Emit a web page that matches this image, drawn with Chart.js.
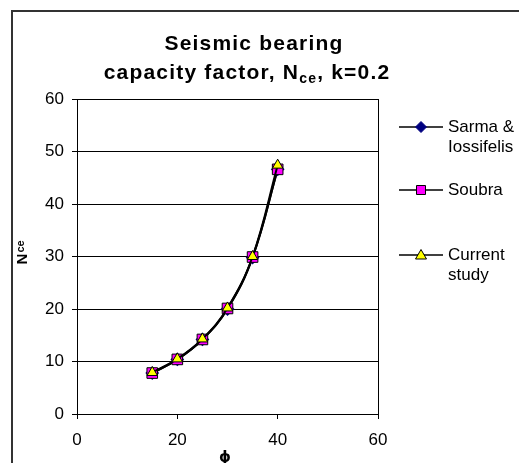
<!DOCTYPE html>
<html>
<head>
<meta charset="utf-8">
<script src="https://cdn.jsdelivr.net/npm/chart.js@4"></script>
<style>
  html, body { margin: 0; padding: 0; background: #fff; }
  #wrap { width: 519px; height: 463px; position: relative; }
</style>
</head>
<body>
<div id="wrap"><canvas id="chart1"></canvas></div>
<script>
const phi = [15, 20, 25, 30, 35, 40];
const sarma = [7.8, 10.4, 14.2, 20.0, 29.8, 46.6];
const soubra = [7.8, 10.4, 14.2, 20.1, 29.9, 46.6];
const current = [7.9, 10.5, 14.3, 20.2, 30.0, 47.4];
const seriesNames = [['Sarma &', 'Iossifelis'], ['Soubra'], ['Current', 'study']];
const xTicks = [0, 20, 40, 60];
const yTicks = [0, 10, 20, 30, 40, 50, 60];

const FONT = '"Liberation Sans", Arial, sans-serif';

function pts(ys) {
  return phi.map((x, i) => ({ x: x, y: ys[i] }));
}

function drawMarker(ctx, style, x, y) {
  ctx.save();
  ctx.lineWidth = 1;
  ctx.beginPath();
  if (style === 'diamond') {
    ctx.moveTo(x, y - 5.5); ctx.lineTo(x + 5.5, y); ctx.lineTo(x, y + 5.5); ctx.lineTo(x - 5.5, y); ctx.closePath();
    ctx.fillStyle = '#000080'; ctx.strokeStyle = '#000080';
  } else if (style === 'square') {
    ctx.rect(x - 4.5, y - 4.5, 9, 9);
    ctx.fillStyle = '#ff00ff'; ctx.strokeStyle = '#000';
  } else {
    ctx.moveTo(x, y - 5.5); ctx.lineTo(x + 5.5, y + 4); ctx.lineTo(x - 5.5, y + 4); ctx.closePath();
    ctx.fillStyle = '#ffff00'; ctx.strokeStyle = '#000';
  }
  ctx.fill(); ctx.stroke();
  ctx.restore();
}

// text with a subscript piece, returns total width (draw=false just measures)
function subText(ctx, parts, x, y, big, small, draw) {
  let w = 0;
  parts.forEach(p => {
    ctx.font = (p.sub ? small : big);
    if (draw) ctx.fillText(p.t, x + w, y + (p.sub ? 4 : 0));
    w += ctx.measureText(p.t).width;
  });
  return w;
}

const decor = {
  id: 'decor',
  afterDraw(chart) {
    const ctx = chart.ctx;
    const a = chart.chartArea;
    ctx.save();

    // outer frame
    ctx.strokeStyle = '#333';
    ctx.lineWidth = 2;
    ctx.beginPath();
    ctx.moveTo(12, 463); ctx.lineTo(12, 11); ctx.lineTo(519, 11);
    ctx.stroke();

    // plot area border
    ctx.strokeStyle = '#000';
    ctx.lineWidth = 1;
    ctx.strokeRect(a.left + 0.5, a.top + 0.5, a.right - a.left, a.bottom - a.top);

    // title
    ctx.fillStyle = '#000';
    ctx.textBaseline = 'alphabetic';
    ctx.textAlign = 'left';
    ctx.letterSpacing = '1.2px';
    const big = 'bold 21px ' + FONT, small = 'bold 14px ' + FONT;
    const l1 = [{ t: 'Seismic bearing' }];
    const l2 = [{ t: 'capacity factor, N' }, { t: 'ce', sub: true }, { t: ', k=0.2' }];
    let w = subText(ctx, l1, 0, 0, big, small, false);
    subText(ctx, l1, 254 - w / 2, 50, big, small, true);
    w = subText(ctx, l2, 0, 0, big, small, false);
    subText(ctx, l2, 247 - w / 2, 79, big, small, true);
    ctx.letterSpacing = '0px';

    // y axis title (rotated)
    ctx.save();
    ctx.translate(27, 255);
    ctx.rotate(-Math.PI / 2);
    ctx.font = 'bold 15px ' + FONT;
    const nw = ctx.measureText('N').width;
    ctx.fillText('N', -nw / 2 - 4, 0);
    ctx.font = 'bold 11px ' + FONT;
    ctx.fillText('ce', nw / 2 - 3, -3);
    ctx.restore();

    // x axis title
    ctx.font = 'bold 15px "DejaVu Sans", ' + FONT;
    ctx.textAlign = 'center';
    ctx.fillText('\u03D5', 225, 462);

    // legend
    const styles = ['diamond', 'square', 'triangle'];
    const ly = [127, 190, 255];
    ctx.textAlign = 'left';
    ctx.textBaseline = 'middle';
    ctx.font = '17px ' + FONT;
    styles.forEach((s, i) => {
      ctx.strokeStyle = '#000';
      ctx.lineWidth = 1.5;
      ctx.beginPath();
      ctx.moveTo(399, ly[i]); ctx.lineTo(443, ly[i]);
      ctx.stroke();
      drawMarker(ctx, s, 421, ly[i]);
      ctx.fillStyle = '#000';
      seriesNames[i].forEach((t, j) => ctx.fillText(t, 448, ly[i] + j * 20));
    });
    ctx.restore();
  }
};

const ctx1 = document.getElementById('chart1').getContext('2d');
new Chart(ctx1, {
  type: 'scatter',
  data: {
    datasets: [
      {
        label: 'Sarma & Iossifelis', data: pts(sarma), showLine: true, tension: 0.4, order: 3,
        borderColor: '#000', borderWidth: 2,
        pointStyle: 'rectRot', pointRadius: 5.5, pointBackgroundColor: '#000080', pointBorderColor: '#000080'
      },
      {
        label: 'Soubra', data: pts(soubra), showLine: true, tension: 0.4, order: 2,
        borderColor: '#000', borderWidth: 2,
        pointStyle: 'rect', pointRadius: 7.5, pointBackgroundColor: '#ff00ff', pointBorderColor: '#000', pointBorderWidth: 1
      },
      {
        label: 'Current study', data: pts(current), showLine: true, tension: 0.4, order: 1,
        borderColor: '#000', borderWidth: 2,
        pointStyle: 'triangle', pointRadius: 6, pointBackgroundColor: '#ffff00', pointBorderColor: '#000', pointBorderWidth: 1
      }
    ]
  },
  options: {
    responsive: true,
    maintainAspectRatio: false,
    animation: false,
    layout: { padding: { left: 0, top: 99, right: 141, bottom: 0 } },
    plugins: { legend: { display: false }, title: { display: false }, tooltip: { enabled: false } },
    scales: {
      x: {
        type: 'linear', min: 0, max: 60,
        afterFit(s) { s.height = 49; },
        afterBuildTicks(s) { s.ticks = xTicks.map(v => ({ value: v })); },
        grid: { drawOnChartArea: false, drawTicks: true, tickLength: 5, color: '#000' },
        border: { color: '#000', width: 1 },
        ticks: { color: '#000', padding: 11, font: { family: FONT, size: 17 } }
      },
      y: {
        min: 0, max: 60,
        afterFit(s) { s.width = 77; },
        afterBuildTicks(s) { s.ticks = yTicks.map(v => ({ value: v })); },
        grid: { color: '#000', lineWidth: 1, tickLength: 5 },
        border: { color: '#000', width: 1 },
        ticks: { color: '#000', padding: 8, font: { family: FONT, size: 17 } }
      }
    }
  },
  plugins: [decor]
});
</script>
</body>
</html>
